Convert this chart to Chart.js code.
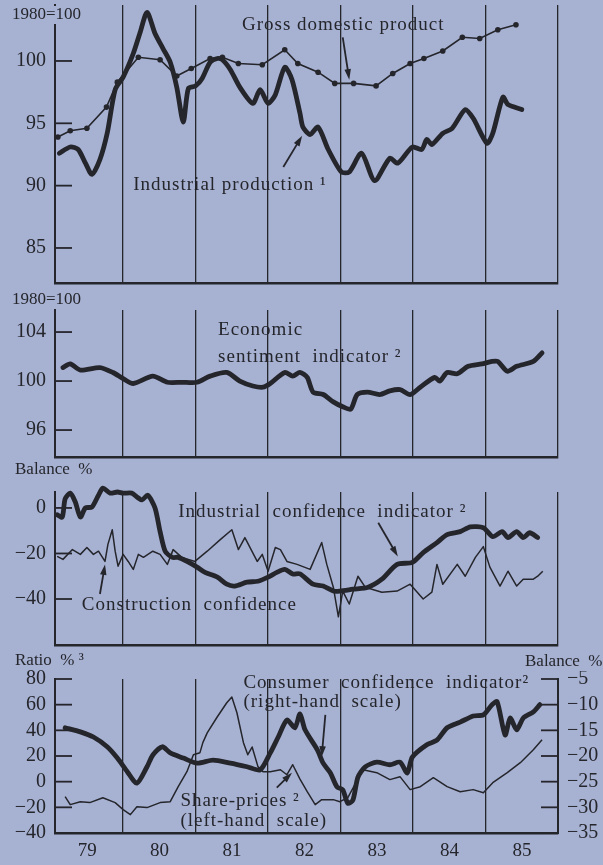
<!DOCTYPE html>
<html>
<head>
<meta charset="utf-8">
<script src="https://cdn.jsdelivr.net/npm/chart.js@4.4.0/dist/chart.umd.min.js"></script>
<style>
  body { margin: 0; background: #a7b2d2; }
  #wrap { position: relative; width: 603px; height: 865px; overflow: hidden; }
  canvas { position: absolute; left: 0; }
</style>
</head>
<body>
<div id="wrap">
  <canvas id="c1" width="603" height="295" style="top:0"></canvas>
  <canvas id="c2" width="603" height="170" style="top:290px"></canvas>
  <canvas id="c3" width="603" height="190" style="top:460px"></canvas>
  <canvas id="c4" width="603" height="215" style="top:650px"></canvas>
</div>
<script>
// year boundaries (vertical lines) and year labels under the last panel
var yearLines = [1980, 1981, 1982, 1983, 1984, 1985, 1986];
var yearLabels = ['79', '80', '81', '82', '83', '84', '85'];

// panel 1 : 1980 = 100
var gdpDates = [1979.10, 1979.27, 1979.50, 1979.77, 1979.92, 1980.21, 1980.51, 1980.74, 1980.94, 1981.20, 1981.37, 1981.59, 1981.92, 1982.23, 1982.41, 1982.69, 1982.92, 1983.18, 1983.49, 1983.72, 1983.96, 1984.15, 1984.41, 1984.68, 1984.92, 1985.17, 1985.42];
var gdpValues = [93.9, 94.4, 94.6, 96.3, 98.3, 100.3, 100.1, 98.8, 99.4, 100.2, 100.3, 99.8, 99.7, 100.9, 99.8, 99.1, 98.2, 98.2, 98.0, 99.0, 99.8, 100.2, 100.8, 101.9, 101.8, 102.5, 102.9];
var ipDates = [1979.12, 1979.27, 1979.38, 1979.48, 1979.57, 1979.68, 1979.78, 1979.89, 1980.00, 1980.14, 1980.23, 1980.33, 1980.44, 1980.55, 1980.65, 1980.74, 1980.83, 1980.90, 1981.00, 1981.09, 1981.20, 1981.30, 1981.37, 1981.48, 1981.61, 1981.79, 1981.89, 1982.00, 1982.10, 1982.23, 1982.33, 1982.44, 1982.48, 1982.58, 1982.69, 1982.83, 1983.01, 1983.12, 1983.29, 1983.47, 1983.68, 1983.79, 1983.99, 1984.12, 1984.19, 1984.26, 1984.41, 1984.54, 1984.72, 1984.83, 1985.02, 1985.10, 1985.24, 1985.31, 1985.50];
var ipValues = [92.6, 93.1, 92.9, 91.8, 90.9, 92.1, 94.2, 97.7, 98.7, 100.6, 102.2, 103.9, 102.2, 101.0, 99.9, 97.9, 95.1, 97.8, 98.0, 98.6, 99.9, 100.2, 100.1, 99.3, 97.9, 96.6, 97.7, 96.6, 97.3, 99.5, 98.5, 95.8, 94.7, 94.1, 94.7, 92.9, 91.1, 91.1, 92.6, 90.4, 92.2, 91.8, 93.1, 92.9, 93.7, 93.3, 94.2, 94.6, 96.1, 95.4, 93.4, 94.2, 97.1, 96.5, 96.1];
var p1Ticks = [85, 90, 95, 100];

// panel 2 : economic sentiment, 1980 = 100
var esiDates = [1979.17, 1979.27, 1979.41, 1979.68, 1979.86, 1980.00, 1980.14, 1980.41, 1980.61, 1980.81, 1981.02, 1981.20, 1981.43, 1981.61, 1981.79, 1981.93, 1982.03, 1982.23, 1982.34, 1982.44, 1982.54, 1982.62, 1982.76, 1982.90, 1983.03, 1983.14, 1983.23, 1983.37, 1983.54, 1983.68, 1983.82, 1983.96, 1984.10, 1984.30, 1984.37, 1984.47, 1984.61, 1984.76, 1984.95, 1985.09, 1985.17, 1985.30, 1985.43, 1985.66, 1985.78];
var esiValues = [101.1, 101.4, 100.9, 101.1, 100.7, 100.2, 99.8, 100.4, 99.9, 99.9, 99.9, 100.4, 100.7, 100.0, 99.6, 99.5, 99.8, 100.7, 100.4, 100.7, 100.3, 99.1, 98.9, 98.3, 97.9, 97.7, 98.9, 99.1, 98.9, 99.2, 99.3, 98.9, 99.5, 100.3, 100.0, 100.7, 100.6, 101.2, 101.4, 101.6, 101.6, 100.8, 101.2, 101.6, 102.3];
var p2Ticks = [96, 100, 104];

// panel 3 : balance %
var indDates = [1979.09, 1979.16, 1979.20, 1979.27, 1979.34, 1979.41, 1979.48, 1979.57, 1979.66, 1979.72, 1979.82, 1979.92, 1980.00, 1980.12, 1980.19, 1980.26, 1980.34, 1980.44, 1980.51, 1980.58, 1980.68, 1980.76, 1980.88, 1981.02, 1981.13, 1981.30, 1981.43, 1981.54, 1981.71, 1981.86, 1982.00, 1982.12, 1982.23, 1982.34, 1982.44, 1982.62, 1982.76, 1982.90, 1982.99, 1983.17, 1983.38, 1983.57, 1983.78, 1983.99, 1984.14, 1984.33, 1984.47, 1984.65, 1984.79, 1984.97, 1985.10, 1985.23, 1985.31, 1985.43, 1985.52, 1985.61, 1985.72];
var indValues = [-3, -4, 4, 6.5, 2.6, -4, 0, 0.4, 5.6, 8.7, 6.5, 7, 6.5, 6.5, 4.8, 3.5, 5.6, 0, -10.4, -19, -21.7, -21.7, -23.5, -26, -28.3, -30.4, -33.5, -34.3, -32.6, -32.2, -30.4, -28.3, -27, -29, -29, -33.5, -34.3, -36.5, -36.5, -35.7, -34.8, -31.3, -24.8, -23.9, -19.6, -15.2, -11.7, -10.4, -8.3, -8.7, -12.6, -10.4, -13, -10.4, -13, -10.9, -13];
var conDates = [1979.09, 1979.17, 1979.30, 1979.41, 1979.50, 1979.59, 1979.66, 1979.75, 1979.79, 1979.85, 1979.89, 1979.93, 1980.00, 1980.07, 1980.14, 1980.21, 1980.28, 1980.41, 1980.51, 1980.61, 1980.69, 1980.81, 1980.99, 1981.16, 1981.34, 1981.50, 1981.59, 1981.68, 1981.85, 1981.92, 1982.00, 1982.10, 1982.17, 1982.26, 1982.40, 1982.58, 1982.74, 1982.81, 1982.90, 1982.97, 1983.03, 1983.12, 1983.24, 1983.34, 1983.57, 1983.78, 1983.96, 1984.14, 1984.26, 1984.33, 1984.41, 1984.61, 1984.72, 1984.86, 1984.97, 1985.06, 1985.20, 1985.31, 1985.43, 1985.52, 1985.66, 1985.72, 1985.79];
var conValues = [-21.3, -22.6, -18.3, -20.4, -17.4, -20.4, -19, -23.5, -16, -9.6, -19, -25.6, -20.4, -23.5, -27, -20.4, -21.7, -19, -20.4, -24.8, -18.3, -21.7, -23.5, -19, -13.9, -9.6, -18.3, -13, -23.5, -20.4, -27.8, -17.4, -18.3, -23.5, -24.8, -27, -15.2, -24.8, -34.8, -47.8, -36.5, -42.2, -30, -34.8, -37, -36.5, -33.5, -40, -37, -24.8, -33.5, -24.8, -30, -21.7, -17, -26, -34.3, -27.8, -34.3, -31.3, -31.3, -30, -27.8];
var p3Ticks = [-40, -20, 0];

// panel 4 : share prices (ratio %, left) and consumer confidence (balance %, right)
var shareDates = [1979.20, 1979.27, 1979.41, 1979.54, 1979.72, 1979.89, 1980.00, 1980.10, 1980.19, 1980.33, 1980.51, 1980.65, 1980.76, 1980.88, 1980.97, 1981.06, 1981.10, 1981.16, 1981.30, 1981.43, 1981.50, 1981.57, 1981.66, 1981.72, 1981.78, 1981.86, 1981.93, 1982.03, 1982.17, 1982.26, 1982.34, 1982.44, 1982.54, 1982.65, 1982.74, 1982.90, 1982.99, 1983.10, 1983.31, 1983.50, 1983.68, 1983.82, 1983.96, 1984.10, 1984.28, 1984.47, 1984.65, 1984.83, 1984.97, 1985.10, 1985.30, 1985.48, 1985.66, 1985.78];
var shareValues = [-11.7, -17.9, -15.6, -16.3, -12.5, -16.3, -21.8, -25.7, -19.5, -20.2, -16.3, -15.6, -3.9, 7.8, 21, 22.6, 30.4, 38, 50.6, 61.5, 66, 53.7, 30.4, 21, 27, 11.7, 7.8, 7.8, 9.3, 5.4, 13.2, 2, -7.8, -17.9, -14, -14, -15.6, -12.5, 9.3, 7, 1.6, 3.9, -6.2, -3.9, 3.1, -3.9, -7.8, -6.2, -8.6, -0.8, 7, 14.8, 24.9, 32.7];
var consDates = [1979.20, 1979.41, 1979.59, 1979.78, 1979.92, 1980.06, 1980.19, 1980.33, 1980.41, 1980.54, 1980.65, 1980.83, 1981.02, 1981.24, 1981.48, 1981.71, 1981.89, 1982.03, 1982.14, 1982.26, 1982.37, 1982.44, 1982.51, 1982.68, 1982.76, 1982.86, 1982.95, 1983.03, 1983.10, 1983.17, 1983.24, 1983.34, 1983.50, 1983.68, 1983.82, 1983.92, 1983.99, 1984.19, 1984.33, 1984.47, 1984.65, 1984.83, 1984.97, 1985.09, 1985.16, 1985.27, 1985.34, 1985.43, 1985.52, 1985.66, 1985.75];
var consValues = [-14.5, -15.3, -16.3, -18.2, -20.4, -23.1, -25.3, -22.1, -19.8, -18.2, -19.4, -20.4, -21.4, -20.8, -21.4, -22.1, -22.7, -19.4, -16.3, -13, -14.5, -11.8, -14.9, -18.8, -21.4, -23.3, -26, -26.6, -29.2, -28.6, -24.1, -22.1, -21.2, -21.7, -21.2, -23.3, -20.2, -17.8, -16.9, -14.5, -13.4, -12.2, -12, -10, -9.4, -15.9, -12.6, -14.9, -12.6, -11.4, -10];
var p4LeftTicks = [-40, -20, 0, 20, 40, 60, 80];
var p4RightTicks = [-35, -30, -25, -20, -15, -10, -5];

var ink = '#25252c';
var bg = '#a7b2d2';
var serif = '"Liberation Serif", "DejaVu Serif", serif';

function pts(dates, values) {
  return dates.map(function (d, i) { return { x: d, y: values[i] }; });
}
function minus(v) { return String(v).replace('-', '\u2212'); }

function thick(data, axis) {
  return { data: data, yAxisID: axis || 'y', borderColor: ink, borderWidth: 4.8, tension: 0.25,
           pointRadius: 0, borderJoinStyle: 'round', borderCapStyle: 'round', clip: false };
}
function thin(data, axis) {
  return { data: data, yAxisID: axis || 'y', borderColor: ink, borderWidth: 1.5, tension: 0,
           pointRadius: 0, borderJoinStyle: 'round', clip: false };
}

// inner tick marks, header texts, notes and arrows
var decor = {
  id: 'decor',
  afterDraw: function (chart, args, o) {
    var ctx = chart.ctx, area = chart.chartArea, xs = chart.scales.x;
    ctx.save();
    ctx.strokeStyle = ink; ctx.fillStyle = ink; ctx.lineWidth = 1.8;
    (o.tickAxes || []).forEach(function (id) {
      var s = chart.scales[id], left = s.position === 'left';
      s.ticks.forEach(function (t) {
        var y = s.getPixelForValue(t.value);
        ctx.beginPath();
        ctx.moveTo(left ? area.left : area.right, y);
        ctx.lineTo(left ? area.left + 17 : area.right - 17, y);
        ctx.stroke();
      });
    });
    (o.headers || []).forEach(function (h) {
      ctx.font = '17px ' + serif;
      ctx.textBaseline = 'middle'; ctx.textAlign = 'left';
      var w = ctx.measureText(h.text).width;
      ctx.fillStyle = bg; ctx.fillRect(h.x - 2, h.y - 9, w + 4, 18);
      ctx.fillStyle = ink; ctx.fillText(h.text, h.x, h.y);
    });
    ctx.letterSpacing = '1px';
    (o.notes || []).forEach(function (n) {
      var ys = chart.scales[n.axis || 'y'];
      ctx.font = '19px ' + serif;
      ctx.textBaseline = 'middle'; ctx.textAlign = 'left';
      ctx.fillText(n.text, xs.getPixelForValue(n.x), ys.getPixelForValue(n.y));
    });
    ctx.lineWidth = 1.8;
    (o.arrows || []).forEach(function (a) {
      var ys = chart.scales[a.axis || 'y'];
      var x1 = xs.getPixelForValue(a.from[0]), y1 = ys.getPixelForValue(a.from[1]);
      var x2 = xs.getPixelForValue(a.to[0]), y2 = ys.getPixelForValue(a.to[1]);
      var ang = Math.atan2(y2 - y1, x2 - x1);
      ctx.beginPath(); ctx.moveTo(x1, y1); ctx.lineTo(x2 - 6 * Math.cos(ang), y2 - 6 * Math.sin(ang)); ctx.stroke();
      ctx.beginPath();
      ctx.moveTo(x2, y2);
      ctx.lineTo(x2 - 11 * Math.cos(ang - 0.3), y2 - 11 * Math.sin(ang - 0.3));
      ctx.lineTo(x2 - 11 * Math.cos(ang + 0.3), y2 - 11 * Math.sin(ang + 0.3));
      ctx.closePath(); ctx.fill();
    });
    ctx.restore();
  }
};

function xAxis(showLabels) {
  return {
    type: 'linear', min: 1979.06, max: 1986,
    afterBuildTicks: function (s) { s.ticks = yearLines.map(function (v) { return { value: v }; }); },
    afterFit: function (s) {
      s.height = showLabels ? 32 : 0;
      s.paddingLeft = 0; s.paddingRight = 0;
    },
    grid: { color: ink, lineWidth: 1.3, drawTicks: false },
    border: { display: true, color: ink, width: 2.5 },
    ticks: {
      display: showLabels, autoSkip: false, maxRotation: 0, padding: 7, labelOffset: -36,
      color: ink, font: { family: serif, size: 19 },
      callback: function (v, i) { return yearLabels[i]; }
    }
  };
}
function yAxis(min, max, ticks, pos) {
  return {
    type: 'linear', position: pos || 'left', min: min, max: max,
    afterBuildTicks: function (s) { s.ticks = ticks.map(function (v) { return { value: v }; }); },
    afterFit: function (s) {
      s.width = pos === 'right' ? 45 : 55;
      s.paddingTop = 0; s.paddingBottom = 0;
    },
    grid: { drawOnChartArea: false, drawTicks: false },
    border: { display: true, color: ink, width: 2 },
    ticks: { autoSkip: false, color: ink, padding: 9, font: { family: serif, size: 20 }, callback: minus }
  };
}

function panel(id, datasets, scales, pad, decorOpts) {
  new Chart(document.getElementById(id), {
    type: 'line',
    data: { datasets: datasets },
    options: {
      responsive: false, animation: false,
      layout: { padding: pad },
      scales: scales,
      plugins: { legend: { display: false }, tooltip: { enabled: false }, decor: decorOpts }
    },
    plugins: [decor]
  });
}

// panel 1
panel('c1', [
  thick(pts(ipDates, ipValues)),
  { data: pts(gdpDates, gdpValues), borderColor: ink, borderWidth: 1.6, tension: 0, clip: false,
    pointRadius: 2.8, pointBackgroundColor: ink, pointBorderWidth: 0 }
], { x: xAxis(false), y: yAxis(82.19, 104.49, p1Ticks) },
{ top: 5, bottom: 12, left: 0, right: 45 },
{ tickAxes: ['y'],
  headers: [{ text: '1980=100', x: 12, y: 15 }],
  notes: [{ text: 'Gross domestic product', x: 1981.64, y: 102.9 },
          { text: 'Industrial production \u00b9', x: 1980.14, y: 90.05 }],
  arrows: [{ from: [1983.03, 101.9], to: [1983.12, 98.5] },
           { from: [1982.21, 91.5], to: [1982.47, 94.0] }] });

// panel 2
panel('c2', [thick(pts(esiDates, esiValues))],
{ x: xAxis(false), y: yAxis(93.8, 105.8, p2Ticks) },
{ top: 20, bottom: 3, left: 0, right: 45 },
{ tickAxes: ['y'],
  headers: [{ text: '1980=100', x: 12, y: 10 }],
  notes: [{ text: 'Economic', x: 1981.31, y: 104.2 },
          { text: 'sentiment  indicator \u00b2', x: 1981.31, y: 102.0 }] });

// panel 3
panel('c3', [thick(pts(indDates, indValues)), thin(pts(conDates, conValues))],
{ x: xAxis(false), y: yAxis(-60.2, 7.0, p3Ticks) },
{ top: 32, bottom: 5, left: 0, right: 45 },
{ tickAxes: ['y'],
  headers: [{ text: 'Balance  %', x: 15, y: 10 }],
  notes: [{ text: 'Industrial  confidence  indicator \u00b2', x: 1980.76, y: -1.7 },
          { text: 'Construction  confidence', x: 1979.43, y: -42.6 }],
  arrows: [{ from: [1983.52, -6.5], to: [1983.79, -21.3] },
           { from: [1979.68, -37.8], to: [1979.75, -24.8] }] });

// panel 4
panel('c4', [thick(pts(consDates, consValues), 'yR'), thin(pts(shareDates, shareValues), 'y')],
{ x: xAxis(true), y: yAxis(-40, 80, p4LeftTicks), yR: yAxis(-35, -5, p4RightTicks, 'right') },
{ top: 29, bottom: 0, left: 0, right: 0 },
{ tickAxes: ['y', 'yR'],
  headers: [{ text: 'Ratio  % \u00b3', x: 15, y: 11 }, { text: 'Balance  %', x: 525, y: 12 }],
  notes: [{ text: 'Consumer  confidence  indicator\u00b2', x: 1981.66, y: 77 },
          { text: '(right-hand  scale)', x: 1981.66, y: 62.3 },
          { text: 'Share-prices \u00b2', x: 1980.79, y: -14.8 },
          { text: '(left-hand  scale)', x: 1980.79, y: -31 }],
  arrows: [{ from: [1982.79, 52.1], to: [1982.74, 19.5] },
           { from: [1982.12, -4.7], to: [1982.33, 7] }] });
</script>
</body>
</html>
